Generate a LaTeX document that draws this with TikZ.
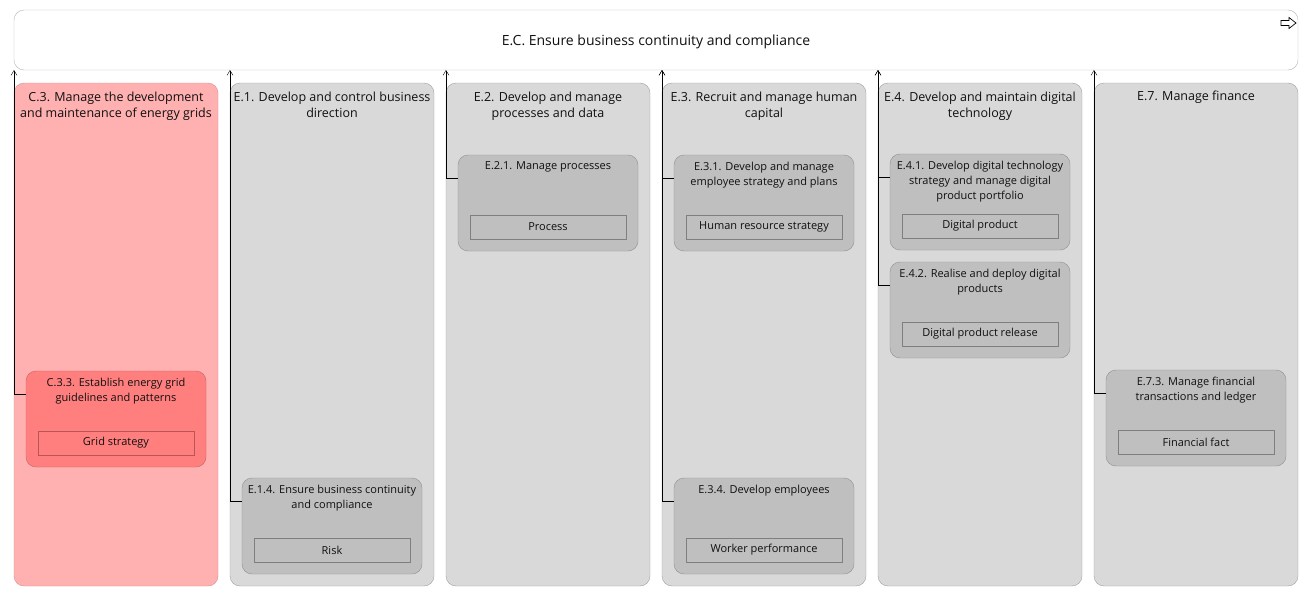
\documentclass[tikz,border=0pt]{standalone}
\usepackage{fontspec}
\setmainfont{Open Sans}
\usetikzlibrary{arrows.meta,positioning}
\definecolor{bannerline}{HTML}{B4B4B4}
\definecolor{colfill}{HTML}{D9D9D9}
\definecolor{colline}{HTML}{A0A0A0}
\definecolor{taskfill}{HTML}{BFBFBF}
\definecolor{taskline}{HTML}{909090}
\definecolor{objline}{HTML}{7F7F7F}
\definecolor{redfill}{HTML}{FFB0B0}
\definecolor{redline}{HTML}{D89090}
\definecolor{redtaskfill}{HTML}{FF7F7F}
\definecolor{redtaskline}{HTML}{C86464}
\definecolor{redobjline}{HTML}{B85555}
\definecolor{textcol}{HTML}{101010}

\begin{document}
\begin{tikzpicture}[x=1pt, y=-1pt,
    font=\fontsize{12.5}{16.5}\selectfont,
    banner/.style={draw=bannerline, fill=white, rounded corners=10pt, minimum width=1284pt, minimum height=60pt, outer sep=0pt},
    col/.style={draw=colline, fill=colfill, rounded corners=10pt, minimum width=204pt, minimum height=503pt, outer sep=0pt},
    redcol/.style={col, draw=redline, fill=redfill},
    task/.style={draw=taskline, fill=taskfill, rounded corners=10pt, minimum width=180pt, minimum height=96pt, outer sep=0pt},
    redtask/.style={task, draw=redtaskline, fill=redtaskfill},
    obj/.style={draw=objline, minimum width=156pt, minimum height=24pt, inner sep=0pt, outer sep=0pt, text=textcol, font=\fontsize{11}{15}\selectfont},
    redobj/.style={obj, draw=redobjline},
    title/.style={align=center, inner sep=0pt, text=textcol},
    subtitle/.style={title, font=\fontsize{11}{15}\selectfont},
    arrow/.style={-{Straight Barb[length=5pt,width=6pt]}, thin}
]
\useasboundingbox (0,0) rectangle (1309,597);

% banner
\node[banner] (ec) at (656,40) {};
\node[title, font=\fontsize{14}{17}\selectfont, yshift=-2pt] (ect) at (ec) {E.C. Ensure business continuity and compliance};
\draw[shift={(ec.north east)}, fill=white, line width=0.7pt]
    (-17,10.5) -- (-9,10.5) -- (-9,7.5) -- (-2,13) -- (-9,18.5) -- (-9,15.5) -- (-17,15.5) -- cycle;

% columns
\node[redcol] (c3) at (116,334.5) {};
\node[col, right=12pt of c3] (e1) {};
\node[col, right=12pt of e1] (e2) {};
\node[col, right=12pt of e2] (e3) {};
\node[col, right=12pt of e3] (e4) {};
\node[col, right=12pt of e4] (e7) {};
\node[title, below=8.5pt of c3.north] (c3t) {C.3. Manage the development\\and maintenance of energy grids};
\node[title, below=8.5pt of e1.north] (e1t) {E.1. Develop and control business\\direction};
\node[title, below=8.5pt of e2.north] (e2t) {E.2. Develop and manage\\processes and data};
\node[title, below=8.5pt of e3.north] (e3t) {E.3. Recruit and manage human\\capital};
\node[title, below=8.5pt of e4.north] (e4t) {E.4. Develop and maintain digital\\technology};
\node[title, below=8pt of e7.north] (e7t) {E.7. Manage finance};

% tasks
\node[redtask, below=288pt of c3.north] (c33) {};
\node[task, below=395pt of e1.north] (e14) {};
\node[task, below=72pt of e2.north] (e21) {};
\node[task, below=72pt of e3.north] (e31) {};
\node[task, below=395pt of e3.north] (e34) {};
\node[task, below=71pt of e4.north] (e41) {};
\node[task, below=179pt of e4.north] (e42) {};
\node[task, below=287pt of e7.north] (e73) {};

\node[subtitle, below=6.5pt of c33.north] (c33t) {C.3.3. Establish energy grid\\guidelines and patterns};
\node[subtitle, below=6.5pt of e14.north] (e14t) {E.1.4. Ensure business continuity\\and compliance};
\node[subtitle, below=6.5pt of e21.north] (e21t) {E.2.1. Manage processes};
\node[subtitle, below=6.5pt of e31.north] (e31t) {E.3.1. Develop and manage\\employee strategy and plans};
\node[subtitle, below=6.5pt of e34.north] (e34t) {E.3.4. Develop employees};
\node[subtitle, below=6.5pt of e41.north] (e41t) {E.4.1. Develop digital technology\\strategy and manage digital\\product portfolio};
\node[subtitle, below=6.5pt of e42.north] (e42t) {E.4.2. Realise and deploy digital\\products};
\node[subtitle, below=6.5pt of e73.north] (e73t) {E.7.3. Manage financial\\transactions and ledger};

% objects
\node[redobj, above=12pt of c33.south] (c33o) {Grid strategy};
\node[obj, above=12pt of e14.south] (e14o) {Risk};
\node[obj, above=12pt of e21.south] (e21o) {Process};
\node[obj, above=12pt of e31.south] (e31o) {Human resource strategy};
\node[obj, above=12pt of e34.south] (e34o) {Worker performance};
\node[obj, above=12pt of e41.south] (e41o) {Digital product};
\node[obj, above=12pt of e42.south] (e42o) {Digital product release};
\node[obj, above=12pt of e73.south] (e73o) {Financial fact};

% connectors to the banner
\draw[arrow] ([yshift=-23.5pt]c33.north west) -| (ec.south -| c3.west);
\draw[arrow] ([yshift=-23.5pt]e14.north west) -| (ec.south -| e1.west);
\draw[arrow] ([yshift=-23.5pt]e21.north west) -| (ec.south -| e2.west);
\draw[arrow] ([yshift=-23.5pt]e31.north west) -| (ec.south -| e3.west);
\draw[arrow] ([yshift=-23.5pt]e34.north west) -| (ec.south -| e3.west);
\draw[arrow] ([yshift=-23.5pt]e41.north west) -| (ec.south -| e4.west);
\draw[arrow] ([yshift=-23.5pt]e42.north west) -| (ec.south -| e4.west);
\draw[arrow] ([yshift=-23.5pt]e73.north west) -| (ec.south -| e7.west);
\end{tikzpicture}
\end{document}
